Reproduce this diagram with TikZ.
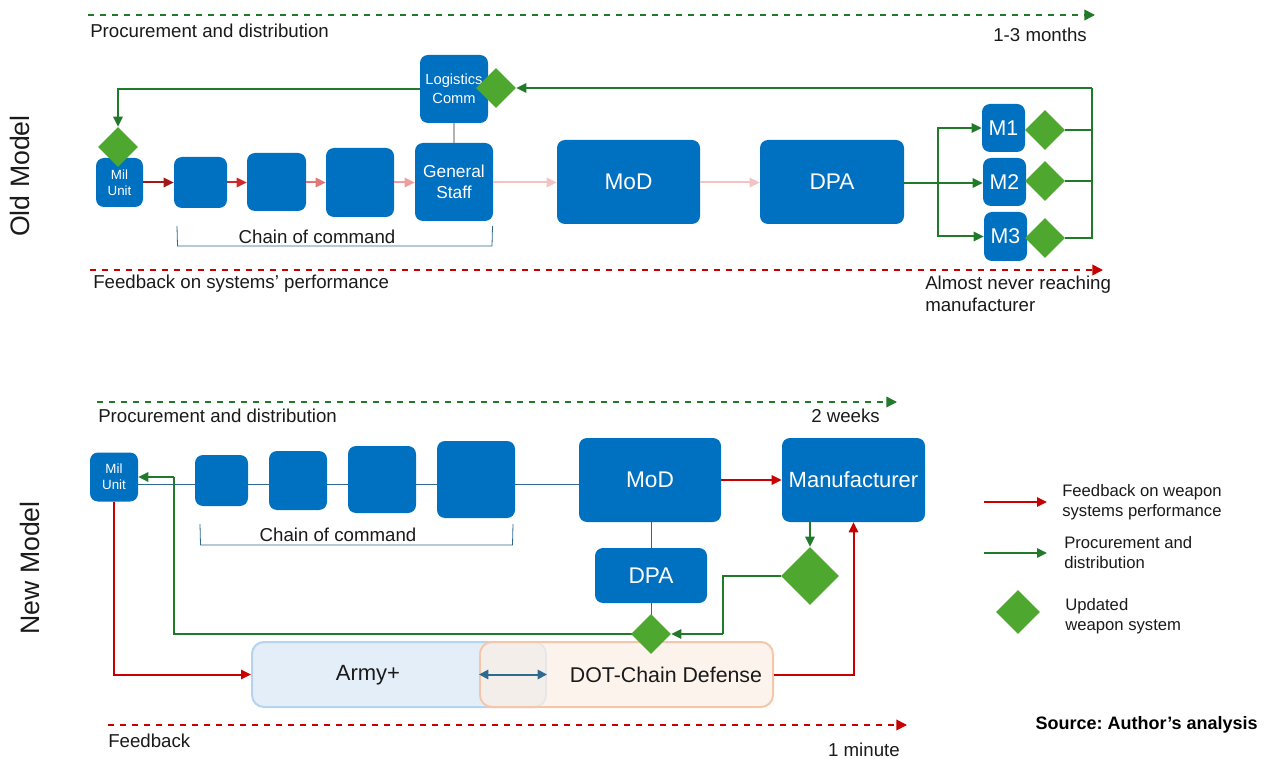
\documentclass[tikz,border=0pt]{standalone}
\usepackage{fontspec}
\setmainfont{Liberation Sans}
\usetikzlibrary{arrows.meta,shapes.geometric}
\definecolor{bluebox}{HTML}{0070C0}
\definecolor{dgreen}{HTML}{217A2A}
\definecolor{lgreen}{HTML}{4EA72E}
\definecolor{dred}{HTML}{C80000}
\definecolor{red1}{HTML}{A01818}
\definecolor{red2}{HTML}{D02828}
\definecolor{red3}{HTML}{E07676}
\definecolor{red4}{HTML}{EE9E9E}
\definecolor{red5}{HTML}{F4C2C2}
\definecolor{steel}{HTML}{2E6A8E}
\definecolor{armyfill}{HTML}{E3EEF9}
\definecolor{armydraw}{HTML}{B8D3EE}
\definecolor{dotfill}{HTML}{FBEEE6}
\definecolor{dotdraw}{HTML}{F4C7AC}
\definecolor{txt}{HTML}{1A1A1A}
\begin{document}
\frenchspacing
\begin{tikzpicture}[x=0.75pt,y=-0.75pt,
  box/.style={rectangle, rounded corners=6pt, fill=bluebox, text=white, inner sep=0pt, align=center},
  sz/.style 2 args={minimum width=#1*0.75pt, minimum height=#2*0.75pt},
  dia/.style={diamond, fill=lgreen, inner sep=0pt, minimum width=#1*1.5pt, minimum height=#1*1.5pt},
  arr/.style={-{Triangle[length=7.5pt,width=7pt]}},
  grn/.style={draw=dgreen, line width=1.5pt},
  rd/.style={draw=dred, line width=1.5pt},
  thinl/.style={draw=steel, line width=0.6pt},
  lbl/.style={text=txt, font=\fontsize{14}{16}\selectfont, inner sep=0pt},
  leg/.style={text=txt, font=\fontsize{12.5}{15}\selectfont, inner sep=0pt, align=left, anchor=west},
  dashg/.style={draw=dgreen, line width=1.2pt, dash pattern=on 4.5pt off 4.5pt, -{Triangle[length=8pt,width=8pt]}},
  dashr/.style={draw=dred, line width=1.2pt, dash pattern=on 4.5pt off 4.5pt, -{Triangle[length=8pt,width=8pt]}},
]
\useasboundingbox (0,0) rectangle (1264,759);

% ================= OLD MODEL =================
\node[rotate=90, text=txt, font=\fontsize{20}{22}\selectfont] (oldlbl) at (20,176) {Old Model};

\coordinate (ogs0) at (88,15);
\coordinate (oge) at (1095,15);
\draw[dashg] (ogs0) -- (oge);
\node[lbl, anchor=west] (opd) at (90,31) {Procurement and distribution};
\node[lbl, anchor=east] (o13) at (1087,35) {1-3 months};

\coordinate (ors) at (90,270);
\coordinate (ore) at (1103,270);
\draw[dashr] (ors) -- (ore);
\node[lbl, anchor=west] (ofb) at (93,284) {Feedback on systems’ performance};
\node[lbl, anchor=north west, align=left] (onev) at (925,276) {Almost never reaching\\manufacturer};

% boxes
\node[box, sz={47}{49}, font=\fontsize{10}{12}\selectfont] (omil) at (119.5,182.5) {Mil\\Unit};
\node[box, sz={53}{51}] (ob1) at (200.5,182.5) {};
\node[box, sz={59}{58}] (ob2) at (276.5,182) {};
\node[box, sz={68}{69}] (ob3) at (360,182.5) {};
\node[box, sz={78}{78}, font=\fontsize{13}{16}\selectfont] (ogs) at (454,182) {General\\Staff};
\node[box, sz={68}{68}, font=\fontsize{11}{14}\selectfont] (olc) at (454,89) {Logistics\\Comm};
\node[box, sz={143}{84}, font=\fontsize{17}{20}\selectfont] (omod) at (628.5,182) {MoD};
\node[box, sz={144}{84}, font=\fontsize{17}{20}\selectfont] (odpa) at (832,182) {DPA};
\node[box, sz={43}{48}, font=\fontsize{16}{18}\selectfont] (om1) at (1003.5,128) {M1};
\node[box, sz={43}{48}, font=\fontsize{16}{18}\selectfont] (om2) at (1004.5,182) {M2};
\node[box, sz={43}{49}, font=\fontsize{16}{18}\selectfont] (om3) at (1005.5,236.5) {M3};

\draw[draw=gray!60, line width=0.8pt] (olc.south) -- (ogs.north);

% chain arrows
\draw[draw=red1, line width=1.5pt, arr] (omil.east) -- (ob1.west |- omil.east);
\draw[draw=red2, line width=1.5pt, arr] (ob1.east) -- (ob2.west |- ob1.east);
\draw[draw=red3, line width=1.5pt, arr] (ob2.east |- ob1.east) -- (ob3.west |- ob1.east);
\draw[draw=red4, line width=1.5pt, arr] (ob3.east |- ob1.east) -- (ogs.west |- ob1.east);
\draw[draw=red5, line width=1.5pt, arr] (ogs.east |- ob1.east) -- (omod.west |- ob1.east);
\draw[draw=red5, line width=1.5pt, arr] (omod.east |- ob1.east) -- (odpa.west |- ob1.east);

% bracket
\draw[thinl] (177,226) -- (177.5,246) -- (492,246) -- (492.5,226);
\node[lbl] (occ) at (317,237) {Chain of command};

% green flows
\coordinate (osplit) at (938,183);
\draw[grn] (odpa.east |- osplit) -- (osplit);
\draw[grn, arr] (osplit) |- (om1.west);
\draw[grn, arr] (osplit) -- (om2.west |- osplit);
\draw[grn, arr] (osplit) |- (om3.west);

\coordinate (oret) at (1092,88);
\node[dia=20] (od1) at (1045,130) {};
\node[dia=20] (od2) at (1045,181) {};
\node[dia=20] (od3) at (1045,238) {};
\draw[grn] (od1.east) -- (od1.east -| oret);
\draw[grn] (od2.east) -- (od2.east -| oret);
\draw[grn] (od3.east) -- (od3.east -| oret) -- (oret);
\node[dia=20] (odlc) at (496,88) {};
\draw[grn, arr] (oret) -- (odlc.east);
\node[dia=20] (odmil) at (118,147) {};
\draw[grn, arr] (olc.west) -| (odmil.north);

% ================= NEW MODEL =================
\node[rotate=90, text=txt, font=\fontsize{20}{22}\selectfont] (newlbl) at (30,568) {New Model};

\coordinate (ngs) at (97,402);
\coordinate (nge) at (897,402);
\draw[dashg] (ngs) -- (nge);
\node[lbl, anchor=west] (npd) at (98,416) {Procurement and distribution};
\node[lbl, anchor=east] (n2w) at (880,416) {2 weeks};

\coordinate (nrs) at (108,725);
\coordinate (nre) at (907,725);
\draw[dashr] (nrs) -- (nre);
\node[lbl, anchor=west] (nfb) at (108,741) {Feedback};
\node[lbl, anchor=east] (n1m) at (900,750) {1 minute};

% thin chain line (behind)
\coordinate (nla) at (138,484);
\coordinate (nlb) at (579,484);
\draw[thinl] (nla) -- (nlb);

\node[box, sz={48}{49}, font=\fontsize{10}{12}\selectfont] (nmil) at (114,477) {Mil\\Unit};
\node[box, sz={53}{51}] (nc1) at (221.5,480.5) {};
\node[box, sz={58}{59}] (nc2) at (298,480.5) {};
\node[box, sz={68}{67}] (nc3) at (382,479.5) {};
\node[box, sz={78}{77}] (nc4) at (476,479.5) {};
\node[box, sz={142}{84}, font=\fontsize{17}{20}\selectfont] (nmod) at (650,480) {MoD};
\node[box, sz={143}{84}, font=\fontsize{16.5}{20}\selectfont] (nman) at (853.5,480) {Manufacturer};
\node[box, sz={112}{55}, font=\fontsize{17}{20}\selectfont] (ndpa) at (651,575.5) {DPA};

% bracket
\draw[thinl] (200,524) -- (200.5,545) -- (512.5,545) -- (513,524);
\node[lbl] (ncc) at (338,535) {Chain of command};

\coordinate (ndsmc) at (651,634);
\draw[thinl] (nmod.south -| ndpa.north) -- (ndpa.north);
\draw[thinl] (ndpa.south) -- (ndsmc);

% Army+ / DOT
\node[rectangle, rounded corners=9pt, fill=armyfill, draw=armydraw, line width=1.5pt, sz={294}{65}, inner sep=0pt] (narmy) at (399,674.5) {};
\node[text=txt, font=\fontsize{16.5}{20}\selectfont] (narmyt) at (368,675) {Army+};
\node[rectangle, rounded corners=9pt, fill=dotfill, fill opacity=0.72, draw=dotdraw, line width=1.5pt, sz={293}{65}, inner sep=0pt] (ndot) at (626.5,674.5) {};
\node[text=txt, font=\fontsize{16}{20}\selectfont] (ndott) at (666,675) {DOT-Chain Defense};
\draw[draw=steel, line width=1.5pt, {Triangle[length=7pt,width=7pt]}-{Triangle[length=7pt,width=7pt]}] (ndot.west) -- (narmy.east);

% red feedback
\draw[rd, arr] (nmil.south) |- (narmy.west);
\draw[rd, arr] (ndot.east) -| (nman.south);
\draw[rd, arr] (nmod.east) -- (nman.west);

% green procurement
\node[dia=29] (ndbig) at (810,576) {};
\draw[grn, arr] (nman.south -| ndbig.north) -- (ndbig.north);
\coordinate (nturn) at (723,634);
\coordinate (nleft) at (174,634);
\coordinate (nup) at (174,477);
\draw[grn] (ndbig.west) -| (nturn);
\draw[grn] (ndsmc) -- (nleft) -- (nup);
\draw[grn, arr] (nup) -- (nmil.east);
\node[dia=20] (ndsm) at (ndsmc) {};
\draw[grn, arr] (nturn) -- (ndsm.east);

% ================= LEGEND =================
\coordinate (lr1) at (984,502);
\coordinate (lr2) at (1047,502);
\draw[rd, arr] (lr1) -- (lr2);
\node[leg] (lt1) at (1062,502) {Feedback on weapon\\systems performance};
\coordinate (lg1) at (984,553);
\coordinate (lg2) at (1047,553);
\draw[grn, arr] (lg1) -- (lg2);
\node[leg] (lt2) at (1064,553) {Procurement and\\distribution};
\node[dia=22] (ldia) at (1018,612) {};
\node[leg] (lt3) at (1065,616) {Updated\\weapon system};

\node[text=black, font=\bfseries\fontsize{13.5}{16}\selectfont, anchor=east, inner sep=0pt] (src) at (1258,725) {Source: Author’s analysis};
\end{tikzpicture}
\end{document}
